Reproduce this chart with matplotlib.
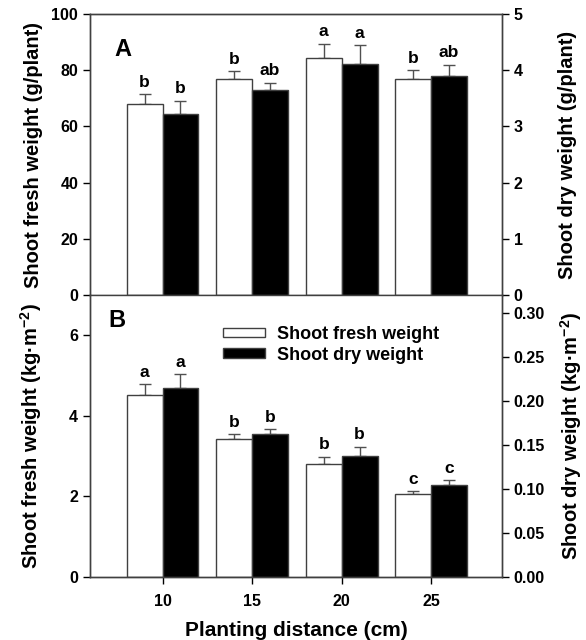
import matplotlib
matplotlib.use('Agg')
import matplotlib.pyplot as plt
import numpy as np
from matplotlib.patches import Patch

plt.rcParams['font.family'] = ['Liberation Sans', 'DejaVu Sans']
plt.rcParams['font.weight'] = 'bold'
plt.rcParams['mathtext.fontset'] = 'custom'
plt.rcParams['mathtext.rm'] = 'Liberation Sans:bold'
plt.rcParams['mathtext.default'] = 'rm'

distances = ['10', '15', '20', '25']

# panel A (per plant)
fresh_a = [68.0, 76.9, 84.2, 76.7]
fresh_a_err = [3.5, 2.8, 5.3, 3.4]
fresh_a_let = ['b', 'b', 'a', 'b']
dry_a = [3.22, 3.64, 4.11, 3.90]
dry_a_err = [0.24, 0.14, 0.34, 0.20]
dry_a_let = ['b', 'ab', 'a', 'ab']

# panel B (per area)
fresh_b = [4.53, 3.42, 2.81, 2.06]
fresh_b_err = [0.26, 0.12, 0.18, 0.08]
fresh_b_let = ['a', 'b', 'b', 'c']
dry_b = [0.214, 0.162, 0.137, 0.104]
dry_b_err = [0.016, 0.006, 0.011, 0.006]
dry_b_let = ['a', 'b', 'b', 'c']

W, H = 586, 640
fig = plt.figure(figsize=(W / 100, H / 100), dpi=100)
L, R = 90 / W, 502 / W
axA = fig.add_axes([L, 1 - 295 / H, R - L, (295 - 14) / H])
axB = fig.add_axes([L, 1 - 577 / H, R - L, (577 - 295) / H])

x = np.arange(len(distances))
bw = 0.4
edge = '#404040'
LBL = 14.5


def draw(ax, fresh, ferr, flet, dry, derr, dlet, ylim, ylim2, yticks, yticks2, fmt2):
    ax2 = ax.twinx()
    ax.bar(x - bw / 2, fresh, bw, color='white', edgecolor=edge, linewidth=1, zorder=2)
    ax.errorbar(x - bw / 2, fresh, yerr=[np.zeros(len(ferr)), ferr], fmt='none',
                ecolor='#505050', elinewidth=1, capsize=4, capthick=1, zorder=1)
    ax2.bar(x + bw / 2, dry, bw, color='black', edgecolor=edge, linewidth=1, zorder=2)
    ax2.errorbar(x + bw / 2, dry, yerr=[np.zeros(len(derr)), derr], fmt='none',
                 ecolor='#505050', elinewidth=1, capsize=4, capthick=1, zorder=1)
    for i in range(len(x)):
        ax.annotate(flet[i], (x[i] - bw / 2, fresh[i] + ferr[i]), xytext=(0, 3),
                    textcoords='offset points', ha='center', va='bottom',
                    fontsize=12.5, fontweight='bold')
        ax2.annotate(dlet[i], (x[i] + bw / 2, dry[i] + derr[i]), xytext=(0, 3),
                     textcoords='offset points', ha='center', va='bottom',
                     fontsize=12.5, fontweight='bold')
    ax.set_xlim(-0.81, 3.79)
    ax.set_ylim(*ylim)
    ax2.set_ylim(*ylim2)
    ax.set_yticks(yticks)
    ax2.set_yticks(yticks2)
    ax2.set_yticklabels([fmt2.format(v) for v in yticks2])
    ax.set_xticks(x)
    for a in (ax, ax2):
        a.tick_params(labelsize=11.5, direction='out', length=5, width=1, colors='black')
        for s in a.spines.values():
            s.set_color('#404040')
            s.set_linewidth(1)
    for lab in ax.get_yticklabels() + ax2.get_yticklabels() + ax.get_xticklabels():
        lab.set_fontweight('bold')
    return ax2


axA2 = draw(axA, fresh_a, fresh_a_err, fresh_a_let, dry_a, dry_a_err, dry_a_let,
            (0, 100), (0, 5), [0, 20, 40, 60, 80, 100], [0, 1, 2, 3, 4, 5], '{:g}')
axB2 = draw(axB, fresh_b, fresh_b_err, fresh_b_let, dry_b, dry_b_err, dry_b_let,
            (0, 7), (0, 0.32), [0, 2, 4, 6], [0, 0.05, 0.10, 0.15, 0.20, 0.25, 0.30], '{:.2f}')

axA.set_xticklabels([])
axB.set_xticklabels(distances)
axB.spines['top'].set_visible(False)
axB2.spines['top'].set_visible(False)
axB.tick_params(axis='x', pad=7)

axA.set_ylabel('Shoot fresh weight (g/plant)', fontsize=LBL, fontweight='bold')
axA2.set_ylabel('Shoot dry weight (g/plant)', fontsize=LBL, fontweight='bold')
axB.set_ylabel('Shoot fresh weight (kg·m$^{-2}$)', fontsize=LBL, fontweight='bold')
axB2.set_ylabel('Shoot dry weight (kg·m$^{-2}$)', fontsize=LBL, fontweight='bold')
axB.set_xlabel('Planting distance (cm)', fontsize=LBL + 0.5, fontweight='bold')
axA.yaxis.set_label_coords(-0.115, 0.5)
axB.yaxis.set_label_coords(-0.112, 0.5)
axA2.yaxis.set_label_coords(1.135, 0.5)
axB2.yaxis.set_label_coords(1.135, 0.5)
axB.xaxis.set_label_coords(0.5, -0.155)

axA.text(0.08, 0.872, 'A', transform=axA.transAxes, fontsize=17, fontweight='bold',
         ha='center', va='center')
axB.text(0.066, 0.908, 'B', transform=axB.transAxes, fontsize=17, fontweight='bold',
         ha='center', va='center')

handles = [Patch(facecolor='white', edgecolor=edge), Patch(facecolor='black', edgecolor=edge)]
axB.legend(handles, ['Shoot fresh weight', 'Shoot dry weight'], loc='upper left',
           bbox_to_anchor=(0.323, 0.89), frameon=False, handlelength=2.3,
           handleheight=0.45, handletextpad=0.67, labelspacing=0.2,
           borderpad=0, borderaxespad=0, prop={'weight': 'bold', 'size': 13})

fig.savefig('out.png', dpi=100)
